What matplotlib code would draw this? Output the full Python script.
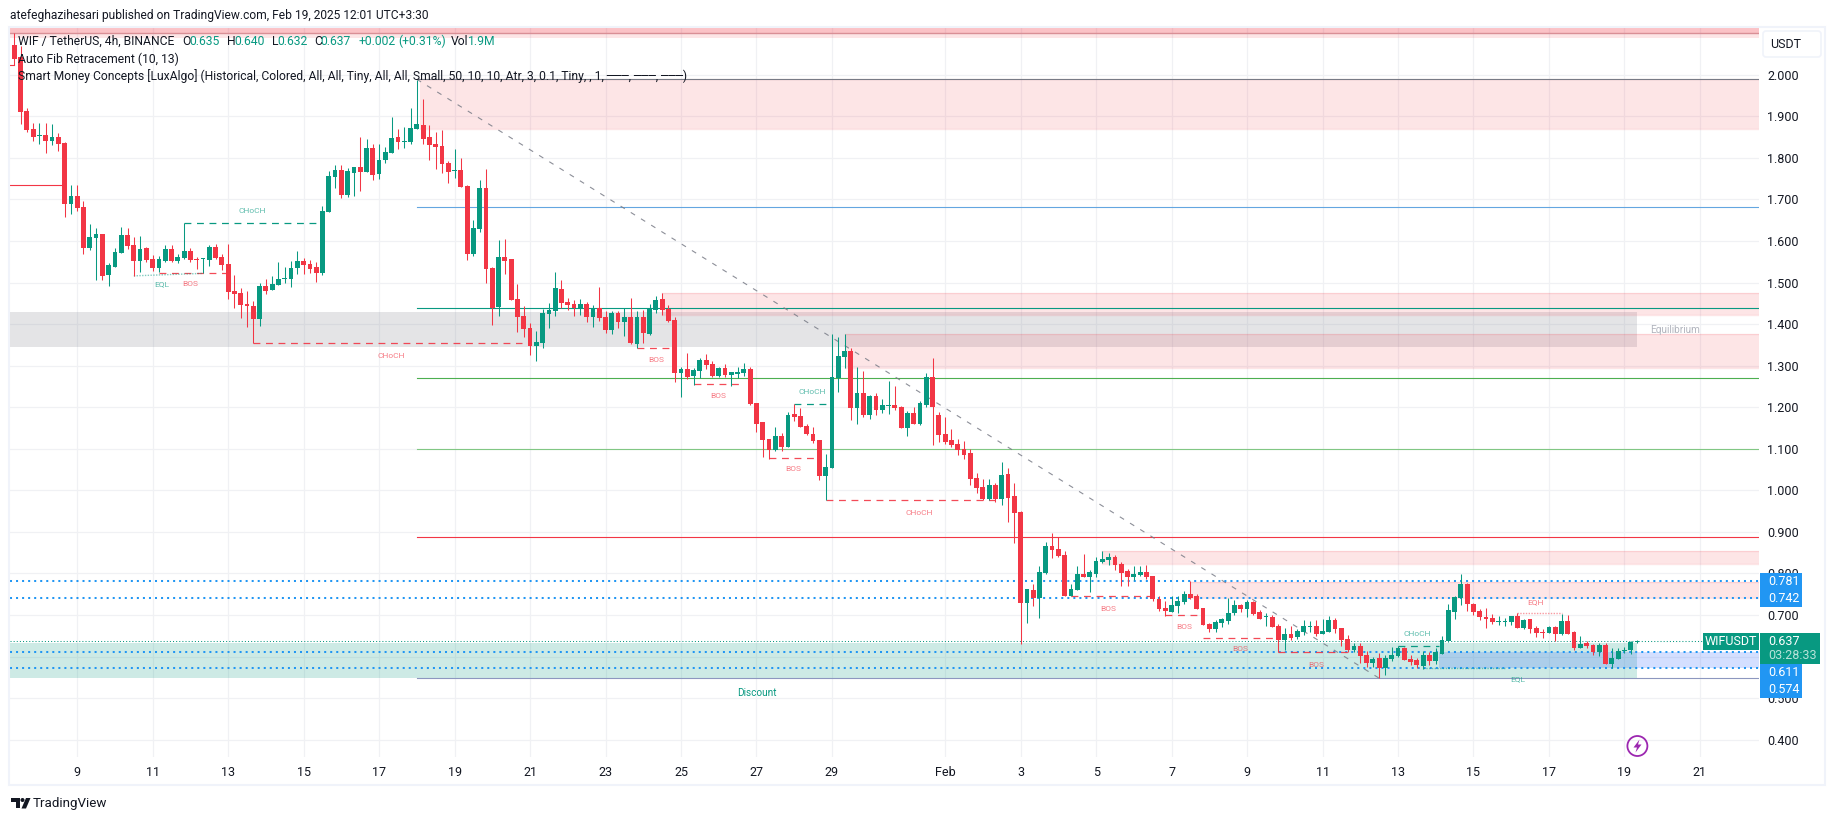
import matplotlib
matplotlib.use("Agg")
import matplotlib.pyplot as plt
from matplotlib.patches import Rectangle, FancyBboxPatch, Circle, Polygon
import numpy as np

plt.rcParams['font.family'] = ['Roboto', 'DejaVu Sans']

# WIF/USDT 4h candles
opens = [
    2.071,2.042,1.913,1.869,1.852,1.855,1.840,1.850,1.836,1.690,
    1.708,1.682,1.583,1.607,1.617,1.518,1.537,1.571,1.614,1.590,
    1.552,1.583,1.557,1.535,1.552,1.581,1.552,1.559,1.576,1.557,
    1.556,1.554,1.585,1.561,1.545,1.480,1.475,1.448,1.444,1.412,
    1.492,1.482,1.494,1.509,1.508,1.535,1.552,1.545,1.537,1.523,
    1.670,1.754,1.771,1.711,1.763,1.778,1.766,1.824,1.761,1.795,
    1.812,1.850,1.839,1.838,1.869,1.879,1.850,1.833,1.828,1.788,
    1.769,1.771,1.732,1.569,1.629,1.727,1.535,1.441,1.561,1.557,
    1.460,1.419,1.391,1.347,1.354,1.424,1.431,1.484,1.453,1.448,
    1.438,1.448,1.417,1.439,1.417,1.386,1.427,1.405,1.417,1.352,
    1.417,1.376,1.434,1.460,1.436,1.410,1.282,1.292,1.275,1.287,
    1.314,1.304,1.275,1.294,1.277,1.280,1.282,1.292,1.210,1.164,
    1.123,1.097,1.131,1.104,1.184,1.179,1.155,1.136,1.121,1.034,
    1.054,1.270,1.321,1.335,1.198,1.234,1.181,1.227,1.193,1.204,
    1.205,1.200,1.150,1.186,1.160,1.205,1.273,1.181,1.136,1.121,
    1.111,1.099,1.090,1.030,1.008,0.979,1.013,0.979,1.039,0.986,
    0.948,0.729,0.760,0.741,0.801,0.866,0.859,0.844,0.746,0.760,
    0.799,0.791,0.799,0.828,0.832,0.840,0.823,0.806,0.791,0.796,
    0.803,0.794,0.738,0.717,0.707,0.722,0.731,0.750,0.746,0.717,
    0.678,0.666,0.681,0.686,0.705,0.724,0.714,0.731,0.707,0.694,
    0.695,0.674,0.640,0.654,0.647,0.659,0.672,0.674,0.654,0.659,
    0.688,0.669,0.642,0.616,0.625,0.604,0.584,0.597,0.572,0.594,
    0.601,0.621,0.594,0.592,0.577,0.604,0.589,0.606,0.637,0.707,
    0.741,0.775,0.726,0.710,0.695,0.693,0.683,0.683,0.683,0.698,
    0.669,0.690,0.669,0.659,0.657,0.671,0.654,0.686,0.659,0.621,
    0.633,0.628,0.611,0.628,0.582,0.594,0.614,0.616,0.635,
]
closes = [
    2.038,1.911,1.868,1.850,1.855,1.840,1.850,1.833,1.690,1.708,
    1.680,1.583,1.610,1.617,1.516,1.542,1.573,1.614,1.588,1.552,
    1.581,1.554,1.535,1.557,1.581,1.552,1.561,1.576,1.554,1.555,
    1.557,1.585,1.559,1.542,1.477,1.472,1.446,1.444,1.412,1.492,
    1.480,1.496,1.508,1.511,1.535,1.552,1.542,1.533,1.523,1.672,
    1.756,1.771,1.711,1.768,1.778,1.766,1.824,1.759,1.795,1.814,
    1.848,1.838,1.840,1.872,1.881,1.845,1.831,1.826,1.785,1.766,
    1.771,1.730,1.569,1.631,1.727,1.533,1.439,1.561,1.552,1.458,
    1.417,1.388,1.347,1.357,1.427,1.434,1.487,1.451,1.446,1.439,
    1.448,1.417,1.439,1.415,1.386,1.427,1.405,1.417,1.354,1.417,
    1.378,1.438,1.458,1.434,1.407,1.282,1.292,1.273,1.289,1.314,
    1.302,1.275,1.294,1.277,1.285,1.285,1.292,1.208,1.160,1.121,
    1.097,1.131,1.104,1.181,1.176,1.152,1.136,1.119,1.034,1.056,
    1.273,1.323,1.335,1.198,1.234,1.181,1.227,1.193,1.205,1.205,
    1.198,1.150,1.186,1.160,1.210,1.273,1.200,1.133,1.116,1.108,
    1.097,1.085,1.027,1.006,0.979,1.013,0.979,1.037,0.982,0.945,
    0.729,0.763,0.741,0.803,0.866,0.856,0.842,0.746,0.763,0.799,
    0.791,0.804,0.830,0.835,0.840,0.820,0.801,0.791,0.799,0.803,
    0.791,0.738,0.714,0.710,0.724,0.734,0.750,0.741,0.714,0.676,
    0.666,0.683,0.690,0.705,0.724,0.714,0.731,0.702,0.690,0.695,
    0.671,0.640,0.654,0.645,0.661,0.674,0.674,0.654,0.661,0.688,
    0.666,0.640,0.616,0.625,0.601,0.584,0.594,0.572,0.597,0.604,
    0.621,0.592,0.587,0.580,0.604,0.589,0.611,0.640,0.712,0.743,
    0.775,0.726,0.707,0.695,0.690,0.683,0.685,0.685,0.698,0.669,
    0.688,0.666,0.657,0.657,0.671,0.654,0.686,0.654,0.621,0.630,
    0.625,0.611,0.628,0.582,0.597,0.613,0.616,0.635,0.637,
]
highs = [
    2.100,2.068,1.919,1.883,1.885,1.885,1.881,1.860,1.838,1.735,
    1.735,1.696,1.641,1.630,1.617,1.547,1.583,1.634,1.631,1.610,
    1.612,1.585,1.566,1.564,1.590,1.590,1.569,1.642,1.583,1.561,
    1.559,1.590,1.593,1.569,1.593,1.518,1.487,1.480,1.456,1.499,
    1.508,1.516,1.549,1.537,1.552,1.576,1.559,1.554,1.549,1.684,
    1.768,1.783,1.783,1.776,1.778,1.850,1.845,1.833,1.833,1.826,
    1.898,1.869,1.874,1.920,1.987,1.942,1.879,1.862,1.867,1.792,
    1.821,1.800,1.735,1.650,1.747,1.773,1.537,1.602,1.605,1.557,
    1.496,1.443,1.403,1.383,1.436,1.451,1.525,1.506,1.463,1.458,
    1.460,1.453,1.446,1.489,1.431,1.431,1.431,1.439,1.463,1.431,
    1.434,1.448,1.468,1.475,1.446,1.417,1.297,1.330,1.294,1.318,
    1.328,1.311,1.297,1.304,1.285,1.297,1.306,1.297,1.210,1.164,
    1.123,1.152,1.138,1.188,1.208,1.198,1.160,1.152,1.121,1.087,
    1.376,1.370,1.376,1.342,1.297,1.287,1.229,1.234,1.220,1.263,
    1.251,1.203,1.191,1.200,1.215,1.282,1.318,1.188,1.176,1.148,
    1.123,1.119,1.099,1.042,1.027,1.027,1.018,1.068,1.054,1.018,
    0.950,0.763,0.775,0.818,0.876,0.897,0.888,0.854,0.775,0.818,
    0.847,0.808,0.840,0.854,0.849,0.844,0.828,0.811,0.818,0.818,
    0.820,0.794,0.746,0.734,0.746,0.746,0.758,0.782,0.750,0.717,
    0.681,0.688,0.693,0.741,0.736,0.726,0.736,0.734,0.712,0.705,
    0.700,0.678,0.669,0.674,0.666,0.688,0.686,0.688,0.690,0.698,
    0.693,0.669,0.652,0.633,0.633,0.613,0.599,0.609,0.604,0.623,
    0.625,0.623,0.604,0.597,0.613,0.611,0.621,0.649,0.726,0.746,
    0.799,0.777,0.729,0.714,0.717,0.702,0.698,0.693,0.698,0.705,
    0.690,0.690,0.674,0.666,0.674,0.674,0.702,0.700,0.661,0.649,
    0.637,0.630,0.633,0.633,0.621,0.621,0.623,0.637,0.640,
]
lows = [
    2.023,1.881,1.862,1.840,1.833,1.812,1.832,1.817,1.658,1.665,
    1.672,1.569,1.578,1.506,1.506,1.492,1.537,1.571,1.581,1.516,
    1.525,1.549,1.528,1.525,1.549,1.549,1.547,1.557,1.549,1.533,
    1.523,1.540,1.557,1.530,1.460,1.439,1.415,1.393,1.354,1.395,
    1.472,1.482,1.494,1.499,1.489,1.520,1.520,1.523,1.501,1.518,
    1.670,1.727,1.703,1.706,1.708,1.720,1.766,1.747,1.749,1.788,
    1.812,1.821,1.824,1.833,1.869,1.833,1.795,1.773,1.763,1.739,
    1.751,1.730,1.554,1.564,1.622,1.499,1.398,1.419,1.520,1.458,
    1.381,1.369,1.326,1.311,1.342,1.391,1.419,1.439,1.434,1.419,
    1.422,1.405,1.393,1.407,1.378,1.376,1.391,1.371,1.352,1.342,
    1.354,1.374,1.427,1.422,1.405,1.261,1.225,1.269,1.253,1.270,
    1.292,1.273,1.273,1.273,1.251,1.270,1.275,1.205,1.140,1.080,
    1.075,1.095,1.095,1.104,1.167,1.152,1.133,1.114,1.025,0.977,
    1.054,1.237,1.294,1.169,1.160,1.176,1.172,1.181,1.186,1.184,
    1.193,1.150,1.131,1.160,1.157,1.200,1.109,1.116,1.111,1.104,
    1.085,1.075,1.013,0.994,0.977,0.977,0.972,0.965,0.924,0.873,
    0.630,0.681,0.722,0.693,0.799,0.837,0.840,0.746,0.746,0.760,
    0.791,0.755,0.791,0.825,0.820,0.808,0.770,0.770,0.784,0.794,
    0.787,0.734,0.710,0.698,0.707,0.705,0.726,0.738,0.714,0.676,
    0.659,0.659,0.671,0.678,0.700,0.707,0.695,0.700,0.690,0.674,
    0.671,0.611,0.616,0.640,0.642,0.652,0.659,0.649,0.654,0.659,
    0.657,0.625,0.611,0.611,0.584,0.575,0.575,0.548,0.556,0.589,
    0.599,0.592,0.580,0.572,0.570,0.580,0.582,0.606,0.635,0.690,
    0.724,0.710,0.700,0.688,0.669,0.678,0.676,0.674,0.676,0.669,
    0.666,0.657,0.647,0.645,0.657,0.637,0.652,0.654,0.616,0.621,
    0.621,0.604,0.601,0.582,0.572,0.594,0.609,0.606,0.632,
]

# axes stuff
price_ticks = [0.4,0.5,0.6,0.7,0.8,0.9,1.0,1.1,1.2,1.3,1.4,1.5,1.6,1.7,1.8,1.9,2.0]
date_ticks = [10,22,34,46,58,70,82,94,106,118,130,148,160,172,184,196,208,220,232,244,256,268]
date_labels = ['9','11','13','15','17','19','21','23','25','27','29','Feb',
               '3','5','7','9','11','13','15','17','19','21']

# fib levels: price, colour
fib_prices = [1.989, 1.681, 1.438, 1.2695, 1.0987, 0.8884, 0.5484]
fib_colors = ['#787b86','#64a6e0','#089981','#4caf50','#81c784','#f23645','#8d97bf']

# red supply boxes: first bar, top, bottom
box_starts = [64.5, 103, 132, 173, 187]
box_tops = [1.989, 1.475, 1.3754, 0.8533, 0.7794]
box_bottoms = [1.870, 1.4225, 1.295, 0.8235, 0.741]

# user drawn levels
blue_levels = [0.781, 0.742, 0.611, 0.5725]

# structure lines: start bar, end bar, price
struct_starts = [38, 23, 99, 108, 120, 129, 168, 183, 189, 201]
struct_ends = [80.7, 34, 104.5, 116, 128, 156, 181, 189, 201, 212]
struct_prices = [1.354, 1.524, 1.342, 1.255, 1.077, 0.976, 0.745, 0.699, 0.644, 0.610]
choch_starts = [27, 124, 220]
choch_ends = [49, 130, 226.5]
choch_prices = [1.642, 1.207, 0.6246]

# text labels on chart
red_labels = ['BOS','CHoCH','BOS','BOS','BOS','CHoCH','BOS','BOS','BOS','BOS','EQH']
red_label_x = [28, 59.9, 102, 112, 123.9, 143.9, 174, 186, 195, 207, 241.9]
red_label_y = [1.497, 1.324, 1.3143, 1.226, 1.0505, 0.946, 0.715, 0.672, 0.617, 0.5805, 0.730]
green_labels = ['CHoCH','EQL','CHoCH','CHoCH','EQL']
green_label_x = [37.8, 23.5, 126.9, 223, 239]
green_label_y = [1.671, 1.496, 1.2358, 0.655, 0.546]

GREEN = '#089981'
RED = '#f23645'
TEXT = '#131722'

fig = plt.figure(figsize=(18.35, 8.21), dpi=100, facecolor='white')
ax = fig.add_axes([10/1835, 1-757/821, 1749/1835, 730/821])
ax.set_xlim(-0.684, 277.4)
ax.set_ylim(0.3583, 2.1148)

ax.set_yticks(price_ticks)
ax.set_yticklabels(['%.3f' % p for p in price_ticks])
ax.yaxis.tick_right()
ax.set_xticks(date_ticks)
ax.set_xticklabels(date_labels)
ax.tick_params(axis='y', length=0, pad=6, labelsize=9, labelcolor=TEXT)
ax.tick_params(axis='x', length=0, pad=6.5, labelsize=9, labelcolor=TEXT)
ax.grid(True, color='#f0f1f4', lw=0.9)
ax.set_axisbelow(True)
for s in ax.spines.values():
    s.set_visible(False)

# zones
ax.axhspan(2.0996, 2.113, color=RED, alpha=0.3, lw=0, zorder=1)
ax.axhspan(2.089, 2.0996, color=RED, alpha=0.13, lw=0, zorder=1)
ax.axhline(2.0996, color='#d98f96', lw=1, zorder=1.5)
ax.fill_between([-0.684, 258], 1.3447, 1.429, color='#787b86', alpha=0.2, lw=0, zorder=1)
ax.fill_between([-0.684, 258], 0.5484, 0.6333, color=GREEN, alpha=0.2, lw=0, zorder=1)
ax.fill_between([226.5, 277.4], 0.5725, 0.611, color='#2962ff', alpha=0.2, lw=0, zorder=1)
for start, top, bottom in zip(box_starts, box_tops, box_bottoms):
    ax.fill_between([start, 277.4], bottom, top, facecolor=RED, alpha=0.13, lw=0, zorder=1)
    ax.plot([start, 277.4], [top, top], color=RED, alpha=0.13, lw=1, zorder=1)
    ax.plot([start, 277.4], [bottom, bottom], color=RED, alpha=0.13, lw=1, zorder=1)

# fib lines
for p, c in zip(fib_prices, fib_colors):
    ax.plot([64, 277.4], [p, p], color=c, lw=0.8, zorder=2)
ax.plot([64, 217], [1.989, 0.548], color='#787b86', lw=0.8, ls=(0, (4.5, 6.3)), alpha=0.85, zorder=2)

ax.plot([-0.684, 8], [1.7346, 1.7346], color=RED, lw=0.8, zorder=2)
ax.plot([-0.684, 0], [2.023, 2.023], color=RED, lw=0.8, zorder=2)

for p in blue_levels:
    ax.axhline(p, color='#2196f3', lw=1.45, ls=(0, (1, 2)), zorder=2)
ax.axhline(0.637, color=GREEN, lw=0.75, ls=(0, (1, 2)), zorder=2)

# structure
for a, b, p in zip(struct_starts, struct_ends, struct_prices):
    ax.plot([a, b], [p, p], color=RED, lw=0.9, ls=(0, (5.5, 4.5)), alpha=0.9, zorder=2.5)
for a, b, p in zip(choch_starts, choch_ends, choch_prices):
    ax.plot([a, b], [p, p], color=GREEN, lw=0.9, ls=(0, (5.5, 4.5)), zorder=2.5)
ax.plot([19, 30], [1.516, 1.522], color=GREEN, lw=1, ls=(0, (1, 1)), alpha=0.5, zorder=2.5)
ax.plot([224, 237], [0.5725, 0.5725], color=GREEN, lw=1, ls=(0, (1, 1)), alpha=0.5, zorder=2.5)
ax.plot([239, 246], [0.704, 0.704], color=RED, lw=1, ls=(0, (1, 1)), alpha=0.5, zorder=2.5)

# candles
x = np.arange(len(opens))
o = np.array(opens)
c = np.array(closes)
cols = [GREEN if ci >= oi else RED for oi, ci in zip(o, c)]
ax.vlines(x, lows, highs, colors=cols, lw=0.75, zorder=3)
heights = np.maximum(np.abs(c - o), 0.0024)
ax.bar(x, heights, bottom=np.minimum(o, c), width=0.76, color=cols, lw=0, zorder=3.1)

for t, xx, yy in zip(red_labels, red_label_x, red_label_y):
    ax.text(xx, yy, t, color=RED, alpha=0.65, fontsize=6, ha='center', va='center', zorder=4)
for t, xx, yy in zip(green_labels, green_label_x, green_label_y):
    ax.text(xx, yy, t, color=GREEN, alpha=0.65, fontsize=6, ha='center', va='center', zorder=4)
ax.text(264, 1.386, 'Equilibrium', color='#b2b5be', fontsize=7.2, ha='center', va='center', zorder=4)
ax.text(118, 0.513, 'Discount', color=GREEN, fontsize=7.2, ha='center', va='center', zorder=4)

# overlay in pixels for the TradingView furniture
ui = fig.add_axes([0, 0, 1, 1], facecolor='none')
ui.set_xlim(0, 1835)
ui.set_ylim(821, 0)
ui.axis('off')

# pane border
ui.add_patch(Rectangle((9, 27), 1816, 758, fill=False, ec='#f0f3fa', lw=1.5))

# right scale tags
ui.add_patch(Rectangle((1760, 573.3), 42.4, 33.7, color='#2196f3', lw=0))
ui.add_patch(Rectangle((1760, 664), 42.4, 33.7, color='#2196f3', lw=0))
ui.add_patch(Rectangle((1703, 633), 56, 17, color=GREEN, lw=0))
ui.add_patch(Rectangle((1760, 633), 60, 30.7, color=GREEN, lw=0))
for t, yy in [('0.781', 581.7), ('0.742', 598.7), ('0.611', 672.7), ('0.574', 689.7)]:
    ui.text(1768, yy, t, color='white', fontsize=9, va='center', ha='left')
ui.text(1768, 641.7, '0.637', color='white', fontsize=9, va='center', ha='left')
ui.text(1768, 655.7, '03:28:33', color='#b9e3da', fontsize=9, va='center', ha='left')
ui.text(1731, 641.7, 'WIFUSDT', color='white', fontsize=9, va='center', ha='center')

ui.add_patch(FancyBboxPatch((1766, 34), 52, 20, boxstyle='round,pad=3', fc='white', ec='#f0f3fa', lw=1.2))
ui.text(1786, 44.7, 'USDT', color=TEXT, fontsize=9, va='center', ha='center')

# lightning icon
ui.add_patch(Circle((1637.4, 746), 10, fill=False, ec='#9c27b0', lw=1.3))
ui.add_patch(Polygon([(1639.5, 739.5), (1633.5, 747.5), (1637, 747.5), (1635.5, 752.5),
                      (1641.5, 744.5), (1638, 744.5)], color='#9c27b0', lw=0))

# header and legend
ui.text(10, 15, 'atefeghazihesari published on TradingView.com, Feb 19, 2025 12:01 UTC+3:30',
        color=TEXT, fontsize=8.65, va='center')
ui.text(18, 41.5, 'WIF / TetherUS, 4h, BINANCE', color=TEXT, fontsize=8.7, va='center')
legend_parts = [('O', 182, TEXT), ('0.635', 189, GREEN), ('H', 227, TEXT), ('0.640', 234, GREEN),
                ('L', 271.5, TEXT), ('0.632', 277, GREEN), ('C', 314.6, TEXT), ('0.637', 320, GREEN),
                ('+0.002', 358.5, GREEN), ('(+0.31%)', 398, GREEN), ('Vol', 450.6, TEXT), ('1.9M', 467.6, GREEN)]
for t, xx, col in legend_parts:
    ui.text(xx, 41.5, t, color=col, fontsize=8.7, va='center')
ui.text(18, 59, 'Auto Fib Retracement (10, 13)', color=TEXT, fontsize=8.7, va='center')
ui.text(18, 76, 'Smart Money Concepts [LuxAlgo] (Historical, Colored, All, All, Tiny, All, All, Small, '
        '50, 10, 10, Atr, 3, 0.1, Tiny, , 1, ───, ───, ───)', color=TEXT, fontsize=8.7, va='center')

# TradingView logo
ui.add_patch(Polygon([(11, 798), (20, 798), (20, 808.5), (15.5, 808.5), (15.5, 802), (11, 802)], color=TEXT, lw=0))
ui.add_patch(Circle((22.5, 800), 2, color=TEXT, lw=0))
ui.add_patch(Polygon([(26, 798), (30.5, 798), (26, 808.5), (21.5, 808.5)], color=TEXT, lw=0))
ui.text(33, 803.5, 'TradingView', color=TEXT, fontsize=9.6, va='center')

fig.savefig('out.png', dpi=100)
